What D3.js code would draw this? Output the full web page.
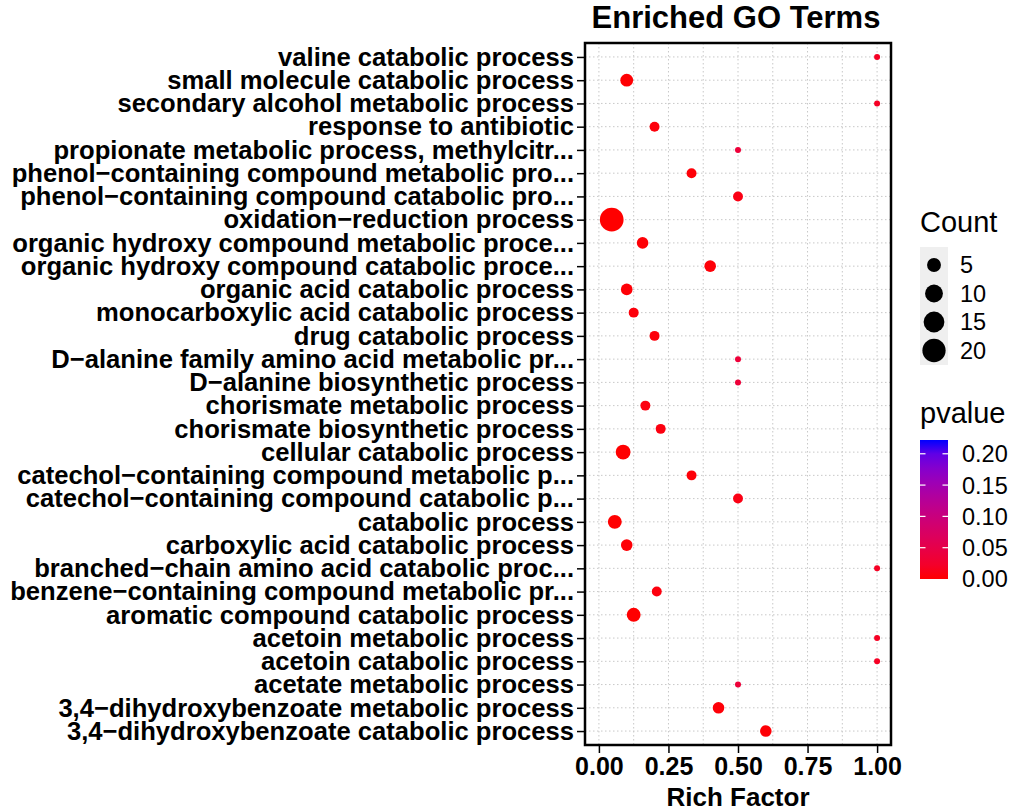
<!DOCTYPE html>
<html>
<head>
<meta charset="utf-8">
<script src="https://cdn.jsdelivr.net/npm/d3@7"></script>
<style>
  body { margin: 0; background: #fff; }
  text { font-family: "Liberation Sans", Arial, sans-serif; }
</style>
</head>
<body>
<svg id="chart"></svg>
<script>
// GO terms, top row first
var terms = [
  "valine catabolic process",
  "small molecule catabolic process",
  "secondary alcohol metabolic process",
  "response to antibiotic",
  "propionate metabolic process, methylcitr...",
  "phenol\u2212containing compound metabolic pro...",
  "phenol\u2212containing compound catabolic pro...",
  "oxidation\u2212reduction process",
  "organic hydroxy compound metabolic proce...",
  "organic hydroxy compound catabolic proce...",
  "organic acid catabolic process",
  "monocarboxylic acid catabolic process",
  "drug catabolic process",
  "D\u2212alanine family amino acid metabolic pr...",
  "D\u2212alanine biosynthetic process",
  "chorismate metabolic process",
  "chorismate biosynthetic process",
  "cellular catabolic process",
  "catechol\u2212containing compound metabolic p...",
  "catechol\u2212containing compound catabolic p...",
  "catabolic process",
  "carboxylic acid catabolic process",
  "branched\u2212chain amino acid catabolic proc...",
  "benzene\u2212containing compound metabolic pr...",
  "aromatic compound catabolic process",
  "acetoin metabolic process",
  "acetoin catabolic process",
  "acetate metabolic process",
  "3,4\u2212dihydroxybenzoate metabolic process",
  "3,4\u2212dihydroxybenzoate catabolic process"
];

var richFactor = [1.0, 0.1, 1.0, 0.2, 0.5, 0.333, 0.5, 0.046, 0.157, 0.4,
                  0.1, 0.125, 0.2, 0.5, 0.5, 0.167, 0.222, 0.087, 0.333, 0.5,
                  0.057, 0.1, 1.0, 0.208, 0.125, 1.0, 1.0, 0.5, 0.43, 0.6];

var counts = [1, 4, 1, 2, 1, 2, 2, 21, 3, 3,
              3, 2, 2, 1, 1, 2, 2, 6, 2, 2,
              5, 3, 1, 2, 5, 1, 1, 1, 3, 3];

var pvalues = [0.018, 0.001, 0.018, 0.004, 0.035, 0.003, 0.008, 0.0001, 0.002, 0.003,
               0.002, 0.004, 0.004, 0.035, 0.035, 0.006, 0.006, 0.0005, 0.003, 0.008,
               0.0005, 0.002, 0.018, 0.005, 0.0004, 0.018, 0.018, 0.035, 0.003, 0.002];

var xTicks = [0, 0.25, 0.5, 0.75, 1];
var sizeBreaks = [5, 10, 15, 20];
var pBreaks = [0, 0.05, 0.1, 0.15, 0.2];
var pMax = 0.222;

var width = 1021, height = 811;
var panel = { left: 585, right: 891, top: 43, bottom: 745 };

var svg = d3.select("#chart")
  .attr("width", width)
  .attr("height", height);

svg.append("rect")
  .attr("width", width)
  .attr("height", height)
  .attr("fill", "#fff");

var x = d3.scaleLinear()
  .domain([-0.05, 1.05])
  .range([panel.left, panel.right]);

var y = d3.scalePoint()
  .domain(terms)
  .range([panel.top, panel.bottom])
  .padding(0.6);

// ggplot-like area scale: radius linear in sqrt of rescaled count
var sizeNorm = d3.scaleLinear().domain(d3.extent(counts)).range([0, 1]);
var radius = d3.scaleLinear().domain([0, 1]).range([3, 11.85]);
function r(c) { return radius(Math.sqrt(Math.max(0, sizeNorm(c)))); }

var color = d3.scaleLinear()
  .domain([0, pMax])
  .range(["red", "blue"])
  .interpolate(d3.interpolateLab);

// grid
var grid = svg.append("g")
  .attr("stroke", "#c8c8c8")
  .attr("stroke-width", 1)
  .attr("stroke-dasharray", "1.5,2.5");

var minorTicks = d3.range(0.125, 1.01, 0.25);
grid.selectAll(".vx")
  .data(xTicks.concat(minorTicks))
  .enter()
  .append("line")
    .attr("x1", d => x(d))
    .attr("x2", d => x(d))
    .attr("y1", panel.top)
    .attr("y2", panel.bottom);

grid.selectAll(".hy")
  .data(terms)
  .enter()
  .append("line")
    .attr("x1", panel.left)
    .attr("x2", panel.right)
    .attr("y1", d => y(d))
    .attr("y2", d => y(d));

// points
svg.append("g")
  .selectAll("circle")
  .data(terms)
  .enter()
  .append("circle")
    .attr("cx", (d, i) => x(richFactor[i]))
    .attr("cy", d => y(d))
    .attr("r", (d, i) => r(counts[i]))
    .attr("fill", (d, i) => color(pvalues[i]));

// panel border
svg.append("rect")
  .attr("x", panel.left)
  .attr("y", panel.top)
  .attr("width", panel.right - panel.left)
  .attr("height", panel.bottom - panel.top)
  .attr("fill", "none")
  .attr("stroke", "#000")
  .attr("stroke-width", 2.5);

// y axis
var yAxis = svg.append("g")
  .attr("transform", `translate(${panel.left - 1},0)`)
  .call(d3.axisLeft(y).tickSize(7).tickPadding(3));
yAxis.select(".domain").remove();
yAxis.selectAll(".tick line").attr("stroke", "#000").attr("stroke-width", 1.5);
yAxis.selectAll(".tick text")
  .attr("fill", "#000")
  .style("font-size", "25.6px")
  .style("font-weight", "bold");

// x axis
var xAxis = svg.append("g")
  .attr("transform", `translate(0,${panel.bottom + 1})`)
  .call(d3.axisBottom(x).tickValues(xTicks).tickFormat(d3.format(".2f")).tickSize(7).tickPadding(4));
xAxis.select(".domain").remove();
xAxis.selectAll(".tick line").attr("stroke", "#000").attr("stroke-width", 1.5);
xAxis.selectAll(".tick text")
  .attr("fill", "#000")
  .style("font-size", "25px")
  .style("font-weight", "bold");

svg.append("text")
  .attr("x", (panel.left + panel.right) / 2)
  .attr("y", 806)
  .attr("text-anchor", "middle")
  .style("font-size", "26px")
  .style("font-weight", "bold")
  .text("Rich Factor");

svg.append("text")
  .attr("x", 736)
  .attr("y", 28)
  .attr("text-anchor", "middle")
  .style("font-size", "31px")
  .style("font-weight", "bold")
  .text("Enriched GO Terms");

// Count legend
var legX = 920, keyW = 28;
svg.append("text")
  .attr("x", legX)
  .attr("y", 232)
  .style("font-size", "29px")
  .text("Count");

svg.append("rect")
  .attr("x", legX)
  .attr("y", 247)
  .attr("width", keyW)
  .attr("height", 118)
  .attr("fill", "#efefef");

var keyY = d3.scalePoint().domain(sizeBreaks).range([265, 350.5]);
var sizeKeys = svg.append("g")
  .selectAll("g")
  .data(sizeBreaks)
  .enter()
  .append("g")
    .attr("transform", d => `translate(0,${keyY(d)})`);
sizeKeys.append("circle")
  .attr("cx", legX + keyW / 2)
  .attr("r", d => r(d))
  .attr("fill", "#000");
sizeKeys.append("text")
  .attr("x", 960)
  .attr("dy", "0.36em")
  .style("font-size", "23.5px")
  .text(d => d);

// pvalue colorbar
svg.append("text")
  .attr("x", legX)
  .attr("y", 423)
  .style("font-size", "29px")
  .text("pvalue");

var barY = d3.scaleLinear().domain([0, pMax]).range([579, 440]);

var grad = svg.append("defs")
  .append("linearGradient")
    .attr("id", "pgrad")
    .attr("x1", 0).attr("y1", 1)
    .attr("x2", 0).attr("y2", 0);
grad.selectAll("stop")
  .data(d3.range(0, 1.001, 0.1))
  .enter()
  .append("stop")
    .attr("offset", d => d)
    .attr("stop-color", d => color(d * pMax));

svg.append("rect")
  .attr("x", legX)
  .attr("y", barY(pMax))
  .attr("width", keyW)
  .attr("height", barY(0) - barY(pMax))
  .attr("fill", "url(#pgrad)");

var barTicks = svg.append("g")
  .attr("stroke", "#fff")
  .attr("stroke-width", 1.2);
barTicks.selectAll(".tl")
  .data(pBreaks.slice(1))
  .enter()
  .append("line")
    .attr("x1", legX)
    .attr("x2", legX + 5.5)
    .attr("y1", d => barY(d))
    .attr("y2", d => barY(d));
barTicks.selectAll(".tr")
  .data(pBreaks.slice(1))
  .enter()
  .append("line")
    .attr("x1", legX + keyW - 5.5)
    .attr("x2", legX + keyW)
    .attr("y1", d => barY(d))
    .attr("y2", d => barY(d));

svg.append("g")
  .selectAll("text")
  .data(pBreaks)
  .enter()
  .append("text")
    .attr("x", 962)
    .attr("y", d => barY(d))
    .attr("dy", "0.36em")
    .style("font-size", "23.5px")
    .text(d => d3.format(".2f")(d));
</script>
</body>
</html>
